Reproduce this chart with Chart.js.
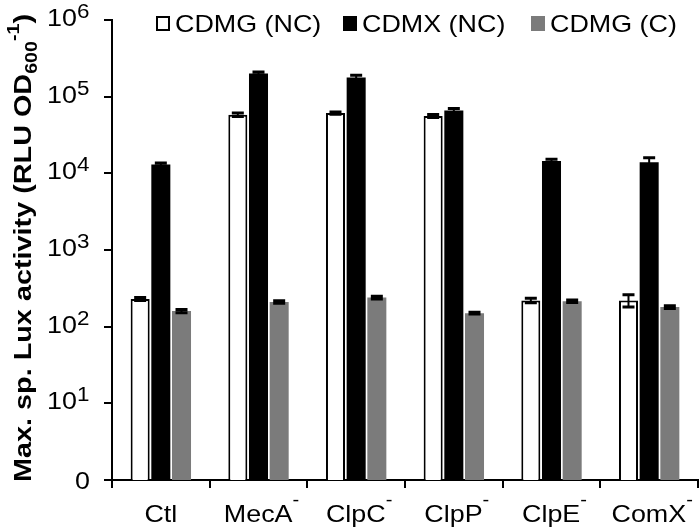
<!DOCTYPE html>
<html>
<head>
<meta charset="utf-8">
<script src="https://cdn.jsdelivr.net/npm/chart.js"></script>
<style>
  body { margin: 0; background: #fff; }
  canvas { display: block; }
</style>
</head>
<body>
<canvas id="myChart" width="700" height="528"></canvas>
<script>
/** DATA **/
const strains = ['Ctl', 'MecA⁻', 'ClpC⁻', 'ClpP⁻', 'ClpE⁻', 'ComX⁻'];
const seriesNames = ['CDMG (NC)', 'CDMX (NC)', 'CDMG (C)'];

const cdmgNC = [230, 58000, 61000, 56000, 220, 220];
const cdmxNC = [13000, 200000, 178000, 66000, 14500, 14000];
const cdmgC = [160, 210, 240, 150, 215, 180];

const cdmgNCErr = [10, 3000, 2000, 2500, 15, 40];
const cdmxNCErr = [600, 10000, 12000, 4000, 800, 2000];
const cdmgCErr = [8, 8, 10, 4, 8, 8];

const yTicks = [1, 10, 100, 1000, 10000, 100000, 1000000];

const errors = [cdmgNCErr, cdmxNCErr, cdmgCErr];
const FONT = '"Liberation Sans", Arial, sans-serif';
const SX = 1.12; // picture is a bit wider than tall

// draw a list of text runs {t, size, dy, bold} starting at x,y (baseline)
function drawRuns(ctx, runs, x, y, align) {
  let total = 0;
  runs.forEach(r => {
    ctx.font = (r.bold ? 'bold ' : '') + r.size + 'px ' + FONT;
    r.w = ctx.measureText(r.t).width;
    total += r.w;
  });
  let cx = 0;
  if (align === 'right') cx = -total;
  if (align === 'center') cx = -total / 2;
  ctx.save();
  ctx.translate(x, y);
  ctx.scale(SX, 1);
  ctx.textBaseline = 'alphabetic';
  ctx.textAlign = 'left';
  runs.forEach(r => {
    ctx.font = (r.bold ? 'bold ' : '') + r.size + 'px ' + FONT;
    ctx.fillText(r.t, cx, r.dy || 0);
    cx += r.w;
  });
  ctx.restore();
}

const labelsPlugin = {
  id: 'labels',
  afterDraw(chart) {
    const ctx = chart.ctx;
    const ys = chart.scales.y;
    const xs = chart.scales.x;
    ctx.fillStyle = '#000';

    // y tick labels 10^n
    yTicks.forEach(v => {
      const py = ys.getPixelForValue(v);
      const n = Math.round(Math.log10(v));
      if (n === 0) {
        drawRuns(ctx, [{t: '0', size: 24}], 90, py + 9, 'right');
      } else {
        drawRuns(ctx, [{t: '10', size: 24}], 77, py + 6, 'right');
        drawRuns(ctx, [{t: String(n), size: 20}], 77, py - 2, 'left');
      }
    });

    // x labels with superscript minus
    strains.forEach((s, i) => {
      const px = xs.getPixelForValue(i);
      const sup = s.endsWith('⁻');
      const base = sup ? s.slice(0, -1) : s;
      const runs = [{t: base, size: 24}];
      if (sup) runs.push({t: '-', size: 18, dy: -16});
      drawRuns(ctx, runs, px + (sup ? 3 : 0), 522, 'center');
    });

    // legend
    const fills = ['#fff', '#000', '#7b7b7b'];
    const boxX = [156, 343, 531];
    seriesNames.forEach((name, i) => {
      const bx = boxX[i];
      ctx.fillStyle = fills[i];
      ctx.fillRect(bx, 16, 14, 15);
      if (i === 0) {
        ctx.strokeStyle = '#000';
        ctx.lineWidth = 2;
        ctx.strokeRect(bx + 1, 17, 12, 13);
      }
      ctx.fillStyle = '#000';
      drawRuns(ctx, [{t: name, size: 24}], bx + 19, 32, 'left');
    });

    // y axis title, rotated
    const runs = [
      {t: 'Max. sp. Lux activity (RLU OD', size: 22, bold: true},
      {t: '600', size: 15, bold: true, dy: 5},
      {t: '-1', size: 15, bold: true, dy: -11},
      {t: ')', size: 22, bold: true}
    ];
    let total = 0;
    runs.forEach(r => {
      ctx.font = 'bold ' + r.size + 'px ' + FONT;
      r.w = ctx.measureText(r.t).width;
      total += r.w;
    });
    const target = 468;
    const k = target / total;
    ctx.save();
    ctx.translate(31, (chart.chartArea.top + chart.chartArea.bottom) / 2 - 2);
    ctx.rotate(-Math.PI / 2);
    ctx.scale(k, SX);
    let cx = -total / 2;
    runs.forEach(r => {
      ctx.font = 'bold ' + r.size + 'px ' + FONT;
      ctx.fillText(r.t, cx, r.dy || 0);
      cx += r.w;
    });
    ctx.restore();
  }
};

const errorBarPlugin = {
  id: 'errorBars',
  afterDatasetsDraw(chart) {
    const ctx = chart.ctx;
    const ys = chart.scales.y;
    ctx.save();
    ctx.strokeStyle = '#000';
    chart.data.datasets.forEach((ds, i) => {
      const meta = chart.getDatasetMeta(i);
      meta.data.forEach((bar, j) => {
        const v = ds.data[j];
        const e = errors[i][j];
        const top = ys.getPixelForValue(v + e);
        const bot = ys.getPixelForValue(Math.max(v - e, 1));
        ctx.lineWidth = 2;
        ctx.beginPath();
        ctx.moveTo(bar.x, top);
        ctx.lineTo(bar.x, bot);
        ctx.stroke();
        ctx.lineWidth = 3;
        ctx.beginPath();
        ctx.moveTo(bar.x - 6, top);
        ctx.lineTo(bar.x + 6, top);
        ctx.moveTo(bar.x - 6, bot);
        ctx.lineTo(bar.x + 6, bot);
        ctx.stroke();
      });
    });
    ctx.restore();
  }
};

const data = {
  labels: strains,
  datasets: [
    {
      label: seriesNames[0],
      data: cdmgNC,
      backgroundColor: '#fff',
      borderColor: '#000',
      borderWidth: 2
    },
    {
      label: seriesNames[1],
      data: cdmxNC,
      backgroundColor: '#000',
      borderWidth: 0
    },
    {
      label: seriesNames[2],
      data: cdmgC,
      backgroundColor: '#7b7b7b',
      borderWidth: 0
    }
  ]
};

const config = {
  type: 'bar',
  data: data,
  options: {
    responsive: false,
    animation: false,
    layout: {
      padding: {left: 104, right: 2, top: 20, bottom: 40}
    },
    datasets: {
      bar: {categoryPercentage: 0.635, barPercentage: 0.92}
    },
    plugins: {
      legend: {display: false},
      tooltip: {enabled: false}
    },
    scales: {
      x: {
        grid: {
          display: true,
          drawOnChartArea: false,
          drawTicks: true,
          tickLength: 8,
          color: '#000',
          lineWidth: 2,
          offset: true
        },
        border: {display: true, color: '#000', width: 2},
        ticks: {display: false}
      },
      y: {
        type: 'logarithmic',
        min: 1,
        max: 1000000,
        afterBuildTicks(scale) {
          scale.ticks = yTicks.map(v => ({value: v}));
        },
        grid: {
          display: true,
          drawOnChartArea: false,
          drawTicks: true,
          tickLength: 8,
          color: '#000',
          lineWidth: 2
        },
        border: {display: true, color: '#000', width: 2},
        ticks: {display: false}
      }
    }
  },
  plugins: [errorBarPlugin, labelsPlugin]
};

var myChart = new Chart(document.getElementById('myChart'), config);
</script>
</body>
</html>
